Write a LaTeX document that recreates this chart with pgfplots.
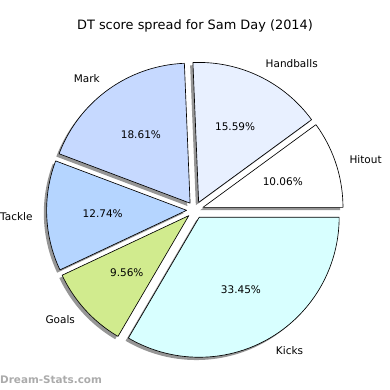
\documentclass[border=0pt]{standalone}
\usepackage{pgfplots}
\pgfplotsset{compat=1.18}
\usepackage{fontspec}
\setmainfont{DejaVu Sans}
\definecolor{cHit}{RGB}{255,255,255}
\definecolor{cHand}{RGB}{232,240,255}
\definecolor{cMark}{RGB}{198,217,255}
\definecolor{cTack}{RGB}{181,213,255}
\definecolor{cGoal}{RGB}{209,235,142}
\definecolor{cKick}{RGB}{216,255,255}
\definecolor{shad}{RGB}{150,150,150}
\def\ex{0.06}
% mode: 0 = shadow, 1 = wedge, 2 = labels
\newcommand\slice[5]{% #1 mode, #2 pct, #3 colour, #4 label
  \pgfmathsetmacro\sa{\cum*3.6}%
  \pgfmathsetmacro\sb{(\cum+#2)*3.6}%
  \pgfmathsetmacro\sm{(\sa+\sb)/2}%
  \pgfmathsetmacro\cx{\ex*cos(\sm)}%
  \pgfmathsetmacro\cy{\ex*sin(\sm)}%
  \ifcase#1
    \pgfmathsetmacro\cx{\cx-0.02}%
    \pgfmathsetmacro\cy{\cy-0.02}%
    \edef\temp{\noexpand\addplot[draw=none,fill=shad,domain=\sa:\sb,samples=60,variable=\noexpand\t]
      ({\cx+cos(\noexpand\t)},{\cy+sin(\noexpand\t)}) -- (axis cs:\cx,\cy) -- cycle;}\temp
  \or
    \edef\temp{\noexpand\addplot[draw=black,line width=0.65pt,line join=round,fill=#3,domain=\sa:\sb,samples=60,variable=\noexpand\t]
      ({\cx+cos(\noexpand\t)},{\cy+sin(\noexpand\t)}) -- (axis cs:\cx,\cy) -- cycle;}\temp
  \or
    \pgfmathsetmacro\lx{\cx+1.1*cos(\sm)}%
    \pgfmathsetmacro\ly{\cy+1.1*sin(\sm)}%
    \pgfmathsetmacro\px{\cx+0.6*cos(\sm)}%
    \pgfmathsetmacro\py{\cy+0.6*sin(\sm)}%
    \pgfmathparse{cos(\sm)>0?1:0}%
    \ifnum\pgfmathresult=1 \def\anc{west}\else\def\anc{east}\fi
    \edef\temp{\noexpand\node[anchor=\anc,inner sep=0pt,font=\noexpand\lbl] at (axis cs:\lx,\ly) {#4};
      \noexpand\node[inner sep=0pt,font=\noexpand\lbl] at (axis cs:\px,\py) {#5\noexpand\%};}\temp
  \fi
  \pgfmathsetmacro\newcum{\cum+#2}%
  \xdef\cum{\newcum}%
}
\newcommand\lbl{\fontsize{10.5}{12}\selectfont}
\newcommand\allslices[1]{%
  \gdef\cum{0}%
  \slice{#1}{10.06}{cHit}{Hitout}{10.06}%
  \slice{#1}{15.59}{cHand}{Handballs}{15.59}%
  \slice{#1}{18.61}{cMark}{Mark}{18.61}%
  \slice{#1}{12.74}{cTack}{Tackle}{12.74}%
  \slice{#1}{9.56}{cGoal}{Goals}{9.56}%
  \slice{#1}{33.45}{cKick}{Kicks}{33.45}%
}
\begin{document}
\begin{tikzpicture}
\begin{axis}[
  width=390pt, height=390pt, scale only axis,
  xmin=-1.393, xmax=1.393, ymin=-1.286, ymax=1.5,
  hide axis, clip=false,
]
\addplot[draw=none] coordinates {(-1.393,-1.286) (1.393,1.5)};
\allslices{0}
\allslices{1}
\allslices{2}
\node[font=\fontsize{12.9}{15}\selectfont] at (axis cs:0,1.314) {DT score spread for Sam Day (2014)};
\node[anchor=west,inner sep=0pt,text=black!33,font=\bfseries\fontsize{10.4}{12}\selectfont] at (axis cs:-1.393,-1.214) {Dream-Stats.com};
\end{axis}
\end{tikzpicture}
\end{document}
